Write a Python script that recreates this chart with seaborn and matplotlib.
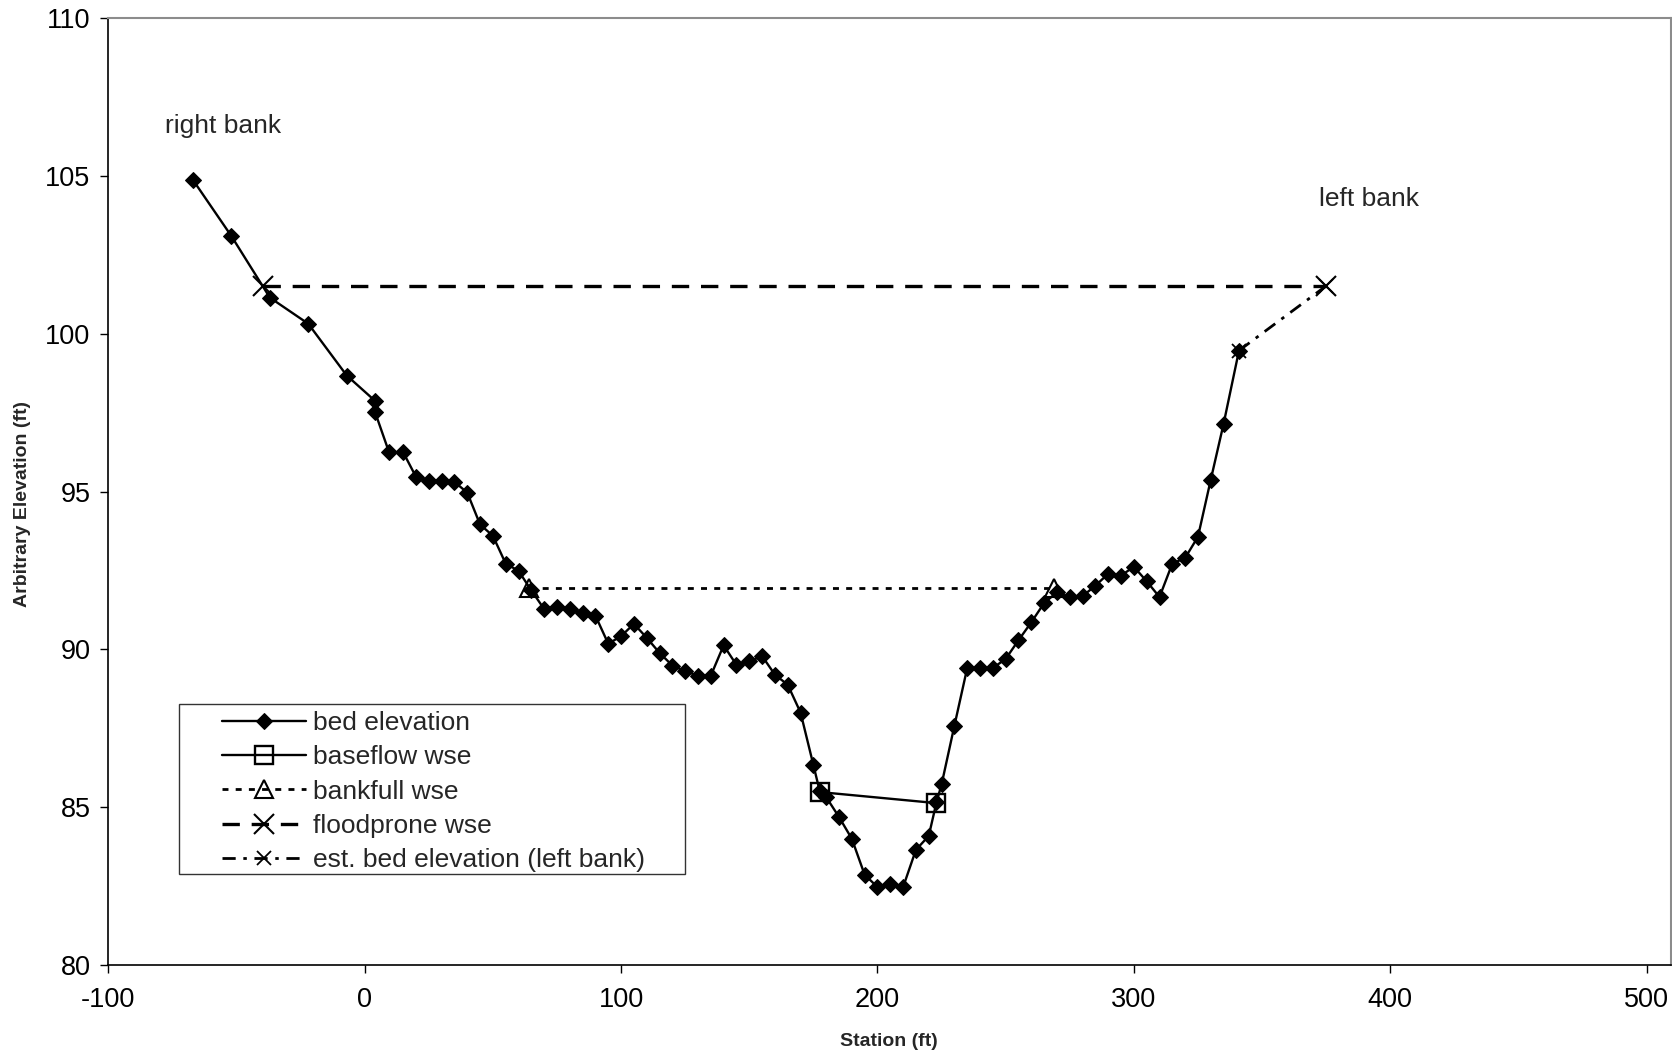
import numpy as np
import pandas as pd
import matplotlib
matplotlib.use("Agg")
import matplotlib.pyplot as plt
from matplotlib.patches import Rectangle
import seaborn as sns

# bed survey (station ft, elevation ft)
bed_station = [-67, -52, -37, -22, -7, 4, 4, 9.5, 15, 20, 25, 30, 35, 40, 45, 50,
               55, 60, 65, 70, 75, 80, 85, 90, 95, 100, 105, 110, 115, 120, 125,
               130, 135, 140, 145, 150, 155, 160, 165, 170, 175, 177.5, 180, 185,
               190, 195, 200, 205, 210, 215, 220, 223, 225, 230, 235, 240, 245,
               250, 255, 260, 265, 270, 275, 280, 285, 290, 295, 300, 305, 310,
               315, 320, 325, 330, 335, 341]
bed_elev = [104.88, 103.10, 101.15, 100.32, 98.68, 97.88, 97.53, 96.25, 96.25,
            95.47, 95.35, 95.35, 95.31, 94.97, 93.96, 93.60, 92.72, 92.49, 91.87,
            91.28, 91.36, 91.28, 91.14, 91.07, 90.18, 90.42, 90.81, 90.37, 89.89,
            89.49, 89.31, 89.17, 89.17, 90.13, 89.51, 89.62, 89.79, 89.20, 88.88,
            88.00, 86.34, 85.50, 85.32, 84.69, 84.00, 82.86, 82.47, 82.57, 82.47,
            83.65, 84.09, 85.15, 85.72, 87.58, 89.41, 89.41, 89.41, 89.70, 90.29,
            90.86, 91.47, 91.81, 91.65, 91.69, 92.02, 92.40, 92.34, 92.62, 92.16,
            91.66, 92.72, 92.90, 93.57, 95.38, 97.15, 99.47]

baseflow_station = [177.5, 223]
baseflow_elev = [85.48, 85.13]

bankfull_station = [64, 269]
bankfull_elev = [91.95, 91.95]

floodprone_station = [-39.5, 375]
floodprone_elev = [101.52, 101.52]

est_station = [341, 375]
est_elev = [99.47, 101.52]

labels = ["bed elevation", "baseflow wse", "bankfull wse", "floodprone wse",
          "est. bed elevation (left bank)"]

sns.set_style("ticks")
plt.rcParams["font.family"] = ["Liberation Sans", "DejaVu Sans"]
plt.rcParams["lines.scale_dashes"] = False
plt.rcParams["axes.unicode_minus"] = False

W, H = 1672, 1059
fig = plt.figure(figsize=(W / 100, H / 100), dpi=100)
ax = fig.add_axes([108.3 / W, 1 - 965 / H, (1671 - 108.3) / W, (965 - 18.3) / H])

handles = []

sns.lineplot(x=bed_station, y=bed_elev, ax=ax, estimator=None, sort=False,
             color="k", lw=1.7, marker="D", markersize=8,
             markeredgecolor="k", markerfacecolor="k", zorder=3)
handles.append(ax.lines[-1])

sns.lineplot(x=baseflow_station, y=baseflow_elev, ax=ax, estimator=None, sort=False,
             color="k", lw=1.7, marker="s", markersize=13.5,
             markerfacecolor="none", markeredgecolor="k", markeredgewidth=1.7, zorder=4)
handles.append(ax.lines[-1])

sns.lineplot(x=bankfull_station, y=bankfull_elev, ax=ax, estimator=None, sort=False,
             color="k", lw=2.0, marker="^", markersize=13,
             markerfacecolor="none", markeredgecolor="k", markeredgewidth=1.5, zorder=4)
ax.lines[-1].set_dashes([4.3, 5.2])
handles.append(ax.lines[-1])

sns.lineplot(x=floodprone_station, y=floodprone_elev, ax=ax, estimator=None, sort=False,
             color="k", lw=2.4, marker="x", markersize=15,
             markeredgecolor="k", markeredgewidth=1.5, zorder=4)
ax.lines[-1].set_dashes([12.5, 8.5])
handles.append(ax.lines[-1])

sns.lineplot(x=est_station, y=est_elev, ax=ax, estimator=None, sort=False,
             color="k", lw=2.0, marker="x", markersize=10,
             markeredgecolor="k", markeredgewidth=1.3, zorder=4)
ax.lines[-1].set_dashes([9.5, 5.5, 2.5, 5.5])
handles.append(ax.lines[-1])

ax.set_xlim(-100, 509.5)
ax.set_ylim(80, 110)
ax.set_xticks(np.arange(-100, 501, 100))
ax.set_yticks(np.arange(80, 111, 5))
ax.tick_params(axis="both", direction="out", length=5.8, width=1.0,
               labelsize=19.5, colors="k")
ax.tick_params(axis="x", pad=10)
ax.tick_params(axis="y", pad=7)

for s in ["left", "bottom"]:
    ax.spines[s].set_color("k")
    ax.spines[s].set_linewidth(1.2)
for s in ["top", "right"]:
    ax.spines[s].set_visible(True)
    ax.spines[s].set_color("#8c8c8c")
    ax.spines[s].set_linewidth(1.5)

lab_font = dict(family=["Liberation Sans Narrow", "Liberation Sans", "DejaVu Sans"],
                fontsize=14, fontweight="bold")
ax.set_xlabel("Station (ft)", **lab_font)
ax.set_ylabel("Arbitrary Elevation (ft)", **lab_font)
ax.xaxis.set_label_coords(0.4996, -0.0718)
ax.yaxis.set_label_coords(-0.0495, 0.487)

ax.text(-77.7, 106.6, "right bank", fontsize=19, va="center", ha="left")
ax.text(372.2, 104.27, "left bank", fontsize=19, va="center", ha="left")

# legend frame drawn separately (wider side padding than matplotlib allows)
frame = Rectangle((179 / W, 1 - 874 / H), (685 - 179) / W, (874 - 704) / H,
                  transform=fig.transFigure, facecolor="white",
                  edgecolor="#333333", lw=1.0, zorder=5, clip_on=False)
ax.add_patch(frame)
leg = ax.legend(handles, labels, loc="upper left",
                bbox_to_anchor=(221.8 / W, 1 - 711 / H),
                bbox_transform=fig.transFigure,
                fontsize=19, frameon=False,
                handlelength=3.2, handletextpad=0.25, borderpad=0,
                labelspacing=0.39, borderaxespad=0, numpoints=1)
leg.set_zorder(6)

fig.savefig("out.png", dpi=100)
